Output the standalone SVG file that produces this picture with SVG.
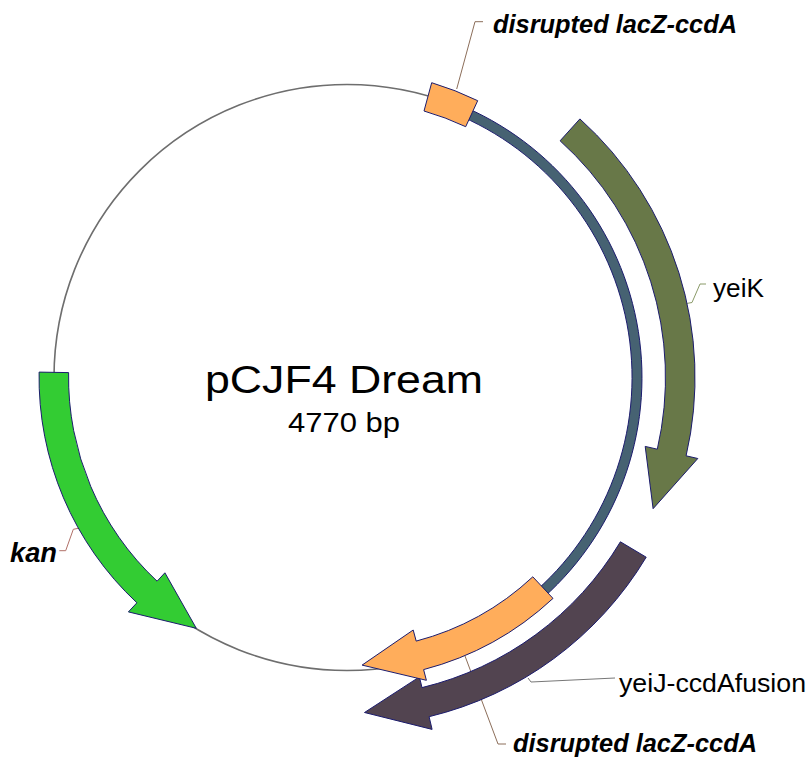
<svg xmlns="http://www.w3.org/2000/svg" width="812" height="769" viewBox="0 0 812 769">
  <style>
    .feat { stroke: #1c1c6e; stroke-width: 1; stroke-linejoin: miter; }
    .lead { fill: none; stroke-width: 1; }
    .lbl { font-family: "Liberation Sans", Arial, sans-serif; fill: #000; }
    .bi { font-weight: bold; font-style: italic; }
  </style>
  <rect width="812" height="769" fill="#fff"/>

  <!-- plasmid backbone -->
  <g id="backbone">
    <circle cx="347" cy="377.5" r="293" fill="none" stroke="#6e6e6e" stroke-width="1.6"/>
  </g>

  <!-- leader lines from features to their labels -->
  <g id="connectors">
    <path class="lead" stroke="#8c6e5a" d="M456.7,89 L475,21.7 L483,21.7"/>
    <path class="lead" stroke="#8a9a68" d="M686.5,303.5 L692,302.5 L700,284 L706,284"/>
    <path class="lead" stroke="#777" d="M528,678 L531,682 L615,678"/>
    <path class="lead" stroke="#8c6e5a" d="M465,656 L498,744 L506,744"/>
    <path class="lead" stroke="#b07068" d="M78.3,528.3 L73.3,529.3 L65.7,550.7 L59.3,550.7"/>
  </g>

  <!-- region on the backbone between the two lacZ-ccdA pieces -->
  <g id="region">
    <path class="feat" fill="#466272" d="M457.5,104 A295,295 0 0 1 536.6,603.5 L530.2,595.8 A285,285 0 0 0 453.8,113.2 Z"/>
  </g>

  <g id="yeiK">
    <path class="feat" fill="#687848" d="M560.1,140.8 L579.9,118.9 A348,348 0 0 1 686.1,455.8 L697.8,458.5 L653.1,508.7 L645.2,446.4 L657.3,449.2 A318.5,318.5 0 0 0 560.1,140.8 Z"/>
    <text class="lbl" x="713" y="297" font-size="25" textLength="51" lengthAdjust="spacingAndGlyphs">yeiK</text>
  </g>

  <g id="yeiJ-ccdA">
    <path class="feat" fill="#524450" d="M620.4,541.8 L646.2,557.2 A349,349 0 0 1 429.1,716.7 L432.1,729.4 L364.5,712.5 L419.4,676.9 L422,687.6 A319,319 0 0 0 620.4,541.8 Z"/>
    <text class="lbl" x="619" y="691.7" font-size="25" textLength="187" lengthAdjust="spacingAndGlyphs">yeiJ-ccdAfusion</text>
  </g>

  <g id="lacZ-ccdA-top">
    <path class="feat" fill="#ffad5b" d="M431.7,82.7 A306.5,306.5 0 0 1 477.7,100.7 L465.7,126.7 A277.5,277.5 0 0 0 424,111 Z"/>
    <text class="lbl bi" x="493" y="33" font-size="26" textLength="244" lengthAdjust="spacingAndGlyphs">disrupted lacZ-ccdA</text>
  </g>

  <g id="lacZ-ccdA-bottom">
    <path class="feat" fill="#ffad5b" d="M532.8,576.8 L553,598.4 A302,302 0 0 1 423.6,669.6 L426.4,680.3 L362.1,665.1 L413.2,630 L416.2,641.1 A272.5,272.5 0 0 0 532.8,576.8 Z"/>
    <text class="lbl bi" x="513" y="752" font-size="26" textLength="244" lengthAdjust="spacingAndGlyphs">disrupted lacZ-ccdA</text>
  </g>

  <g id="kan">
    <path class="feat" fill="#33cc33" d="M68.6,372.6 L39.1,372.1 A308,308 0 0 0 136.9,602.8 L128.4,611.9 L196.3,628.3 L164.9,572.8 L157.1,581.2 A278.5,278.5 0 0 1 68.6,372.6 Z"/>
    <text class="lbl bi" x="10" y="561.5" font-size="27" textLength="47" lengthAdjust="spacingAndGlyphs">kan</text>
  </g>

  <g id="title">
    <text class="lbl" x="205" y="393" font-size="38" textLength="278" lengthAdjust="spacingAndGlyphs">pCJF4 Dream</text>
    <text class="lbl" x="288" y="431.7" font-size="28" textLength="112" lengthAdjust="spacingAndGlyphs">4770 bp</text>
  </g>
</svg>
